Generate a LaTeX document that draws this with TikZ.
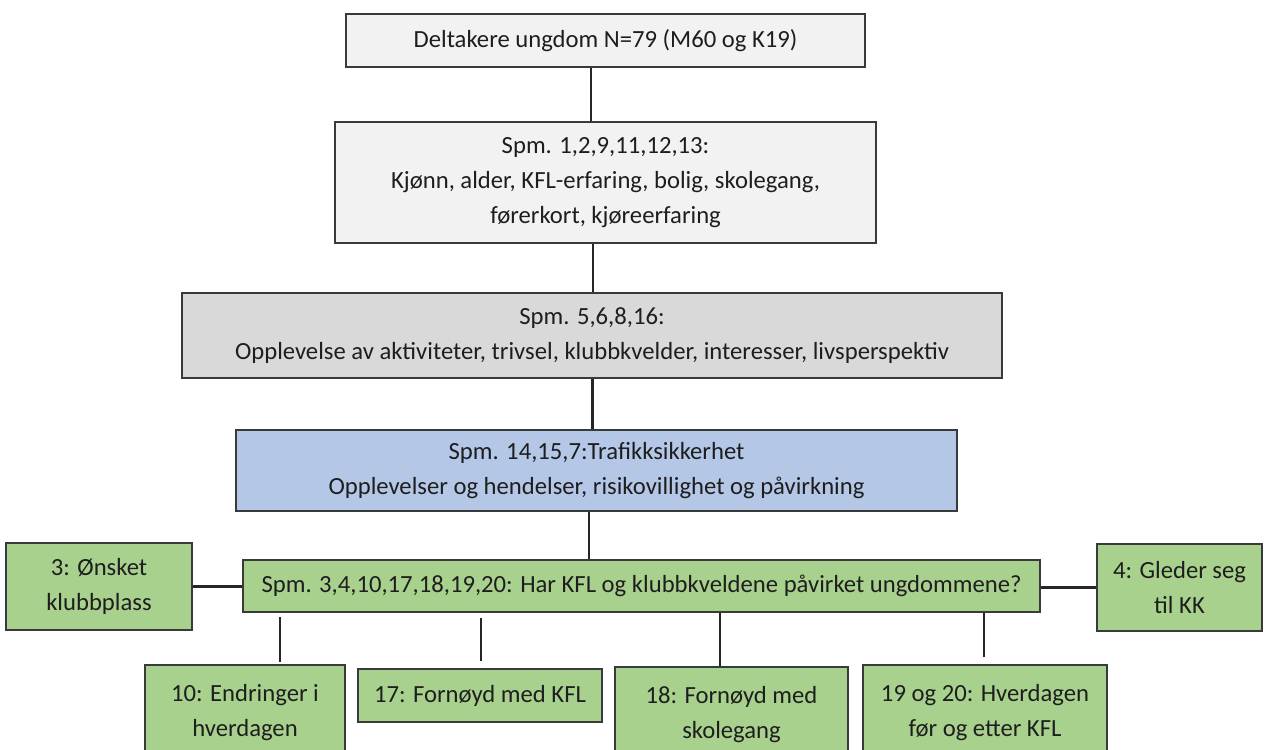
\documentclass[tikz,border=0pt]{standalone}
\usepackage{fontspec}
\setmainfont{Carlito}
\usetikzlibrary{calc}
\newdimen\px
\px=0.75pt
\definecolor{boxline}{HTML}{3A3A3A}
\definecolor{txt}{HTML}{1E1E1E}
\definecolor{paleGray}{HTML}{F2F2F2}
\definecolor{midGray}{HTML}{D9D9D9}
\definecolor{paleBlue}{HTML}{B4C7E7}
\definecolor{paleGreen}{HTML}{A9D18E}
\tikzset{
  box/.style={draw=boxline, line width=2\px, rectangle, align=center,
    inner sep=0pt, text=txt, font=\fontsize{18.5}{26.2}\selectfont},
  link/.style={draw=black!85, line width=2.8\px},
}
\begin{document}
\begin{tikzpicture}[x=\px, y=-\px]
\useasboundingbox (0,0) rectangle (1266,749);
\clip (0,0) rectangle (1266,749);
\fill[white] (0,0) rectangle (1266,749);

% main column
\node[box, fill=paleGray, minimum width=519\px, minimum height=53\px]
  (B1) at (605.5,40.5) {Deltakere ungdom N=79 (M60 og K19)};
\node[box, fill=paleGray, minimum width=541\px, minimum height=121\px]
  (B2) at (605.5,182.5) {Spm. 1,2,9,11,12,13:\\Kjønn, alder, KFL-erfaring, bolig, skolegang,\\førerkort, kjøreerfaring};
\node[box, fill=midGray, minimum width=820\px, minimum height=85\px]
  (B3) at (592,335.5) {Spm. 5,6,8,16:\\Opplevelse av aktiviteter, trivsel, klubbkvelder, interesser, livsperspektiv};
\node[box, fill=paleBlue, minimum width=721\px, minimum height=81\px]
  (B4) at (596.5,470.5) {Spm. 14,15,7:Trafikksikkerhet\\Opplevelser og hendelser, risikovillighet og påvirkning};
\node[box, fill=paleGreen, minimum width=797\px, minimum height=52\px]
  (B5) at (641.5,586) {Spm. 3,4,10,17,18,19,20: Har KFL og klubbkveldene påvirket ungdommene?};

% side boxes
\node[box, fill=paleGreen, minimum width=186\px, minimum height=87\px]
  (L) at (99,586.5) {3: Ønsket\\klubbplass};
\node[box, fill=paleGreen, minimum width=165\px, minimum height=87\px]
  (R) at (1179.5,587.5) {4: Gleder seg\\til KK};

% bottom row
\node[box, fill=paleGreen, minimum width=200\px, minimum height=96\px]
  (D1) at (245,713) {10: Endringer i\\hverdagen};
\node[box, fill=paleGreen, minimum width=244\px, minimum height=53\px]
  (D2) at (480,695.5) {17: Fornøyd med KFL};
\node[box, fill=paleGreen, minimum width=233\px, minimum height=96\px]
  (D3) at (731.5,715) {18: Fornøyd med\\skolegang};
\node[box, fill=paleGreen, minimum width=244\px, minimum height=96\px]
  (D4) at (985,713) {19 og 20: Hverdagen\\før og etter KFL};

% connectors
\draw[link] ([xshift=-14.5\px]B2.north) -- ([xshift=-14.5\px]B2.north |- B1.south);
\draw[link] ([xshift=1\px]B3.north) -- ([xshift=1\px]B3.north |- B2.south);
\draw[link] ([xshift=-4\px]B4.north) -- ([xshift=-4\px]B4.north |- B3.south);
\draw[link] ([xshift=-7.5\px]B4.south) -- ([xshift=-7.5\px]B4.south |- B5.north);
\draw[link] (L.east) -- (L.east -| B5.west);
\draw[link] (R.west) -- (R.west -| B5.east);
% the lower stubs stop just short of the boxes
\draw[link] ([xshift=35\px,yshift=2\px]D1.north) -- ([xshift=35\px,yshift=-4\px]D1.north |- B5.south);
\draw[link] ([xshift=1\px,yshift=7\px]D2.north) -- ([xshift=1\px,yshift=-5\px]D2.north |- B5.south);
\draw[link] ([xshift=-11.5\px]D3.north) -- ([xshift=-11.5\px]D3.north |- B5.south);
\draw[link] ([xshift=-1\px,yshift=7\px]D4.north) -- ([xshift=-1\px]D4.north |- B5.south);
\end{tikzpicture}
\end{document}
